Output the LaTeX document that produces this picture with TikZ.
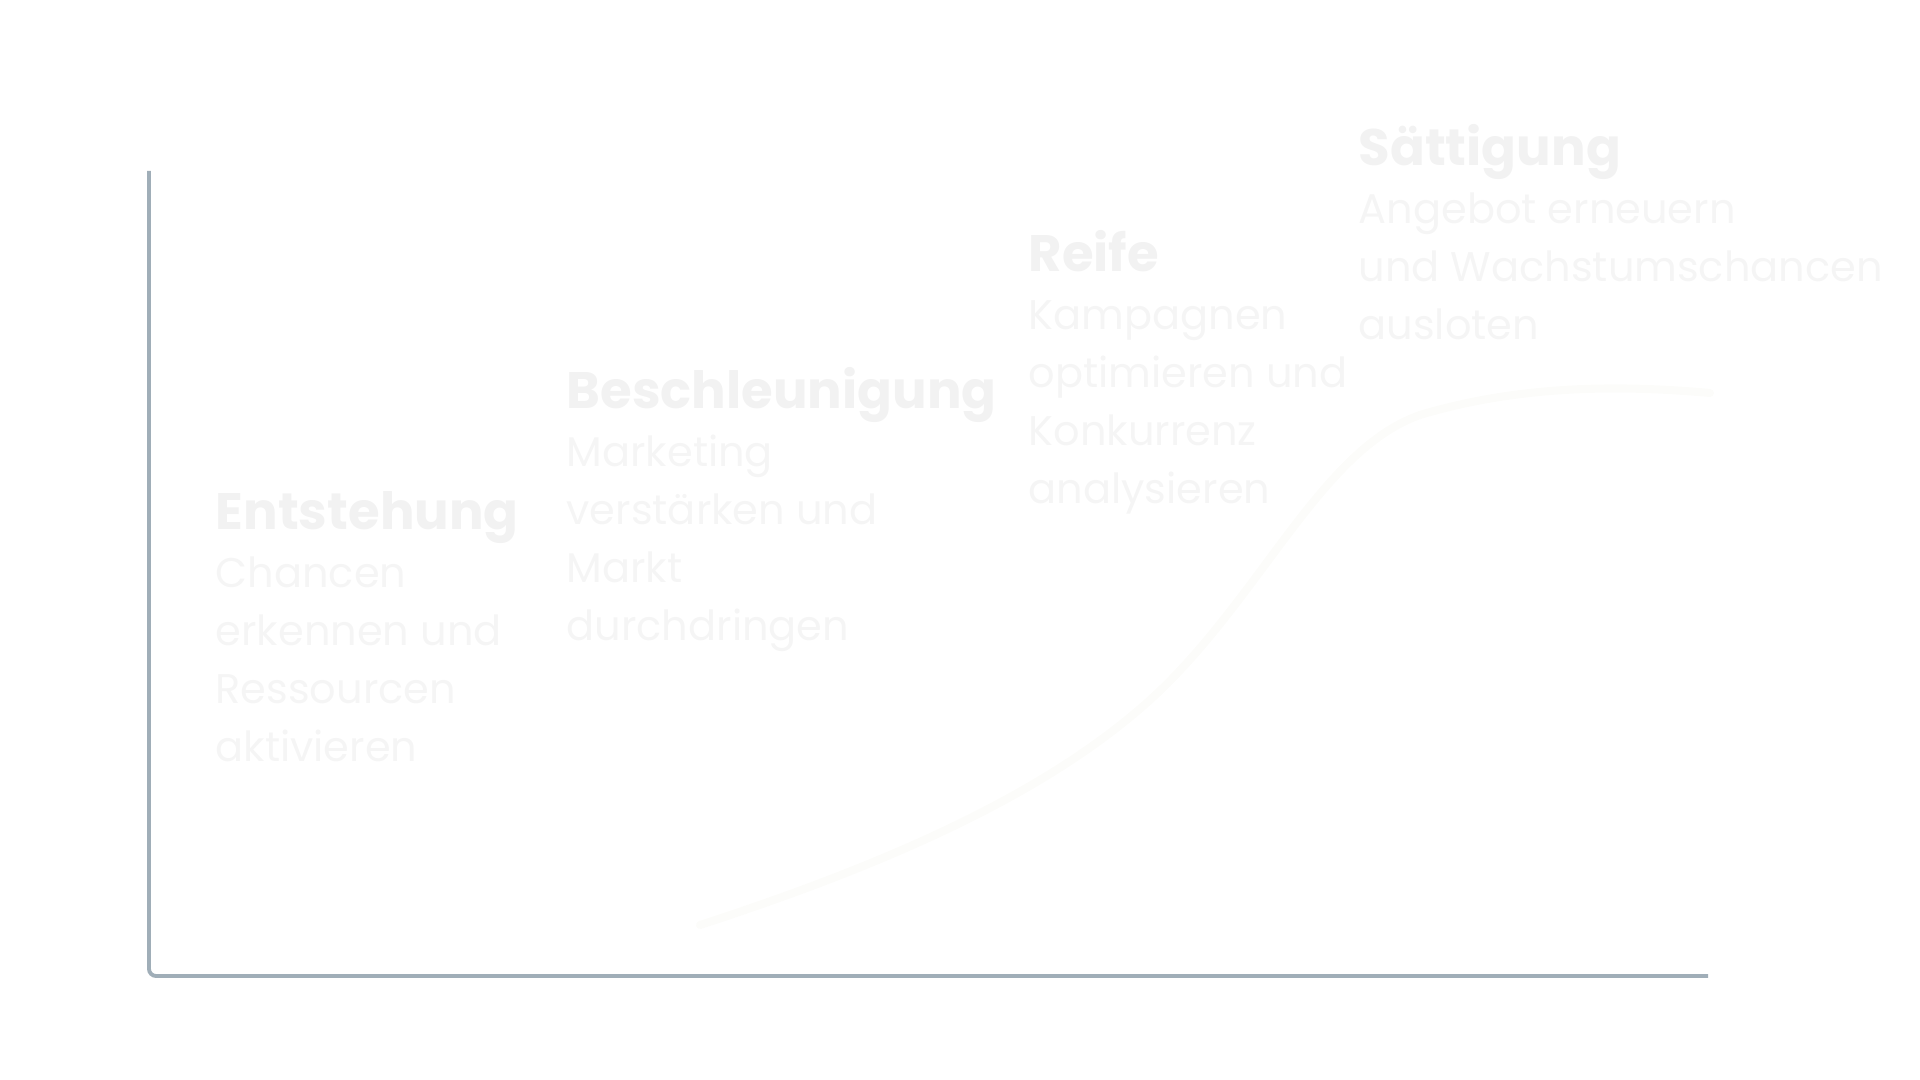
\documentclass[tikz,border=0pt]{standalone}
\usepackage{fontspec}
\setmainfont{Poppins}
\usepackage{xcolor}
\usetikzlibrary{positioning}
\definecolor{lcaxe}{HTML}{A0AEB8}
\definecolor{lctitre}{HTML}{F2F2F2}
\definecolor{lctexte}{HTML}{F5F5F5}
\definecolor{lccourbe}{HTML}{FCFCFA}

\begin{document}
\begin{tikzpicture}[x=0.01cm,y=-0.01cm,
    phasetitre/.style={lctitre,inner sep=0pt,anchor=base west,font=\fontsize{14.6}{18}\selectfont\bfseries},
    phasetexte/.style={lctexte,inner sep=0pt,anchor=base west,align=left,font=\fontsize{11.8}{16.5}\selectfont}]
  \useasboundingbox (0,0) rectangle (1920,1080);
  % courbe de cycle de vie
  \draw[lccourbe,line width=2.3pt,line cap=round]
    (700,925) .. controls (900,860) and (1050,790) .. (1150,700)
    .. controls (1260,600) and (1320,450) .. (1420,415)
    .. controls (1520,385) and (1620,385) .. (1710,393);
  % axes
  \draw[lcaxe,line width=1.1pt,rounded corners=2pt] (149,171) -- (149,976) -- (1708,976);
  % phases : n / x / ligne de base / lignes / titre / texte
  % (ancre base = derniere ligne du texte)
  \foreach \i/\x/\y/\n/\titre/\texte in {%
    1/215/530/4/Entstehung/{Chancen\\erkennen und\\Ressourcen\\aktivieren},
    2/566/409/4/Beschleunigung/{Marketing\\verstärken und\\Markt\\durchdringen},
    3/1028/272/4/Reife/{Kampagnen\\optimieren und\\Konkurrenz\\analysieren},
    4/1358/166/3/Sättigung/{Angebot erneuern\\und Wachstumschancen\\ausloten}} {
    \node[phasetitre] (titre\i) at (\x,\y) {\titre};
    \node[phasetexte] (texte\i) at (\x,\y+58*\n) {\texte};
  }
\end{tikzpicture}
\end{document}
